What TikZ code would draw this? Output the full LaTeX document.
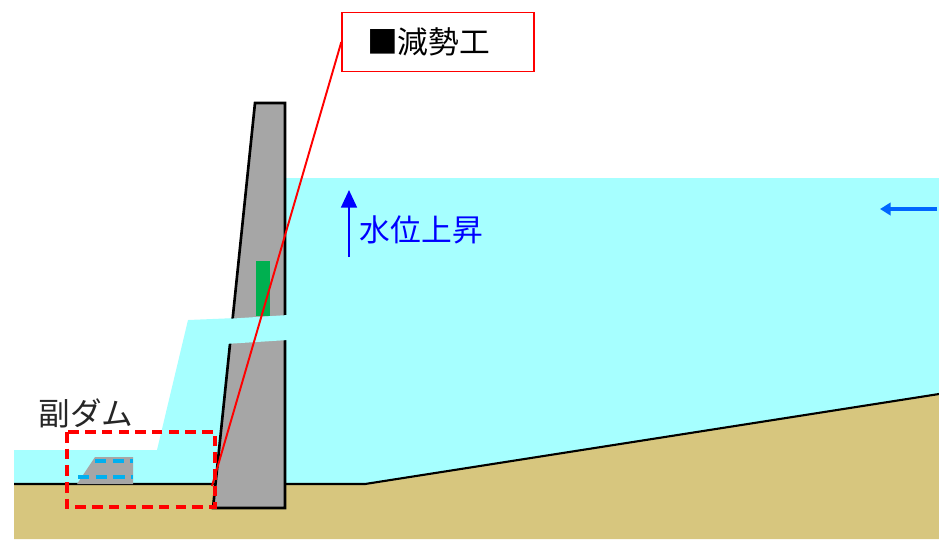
\documentclass[tikz,border=0pt]{standalone}
\usepackage{fontspec}
\newfontfamily\jp{Noto Sans CJK JP}
\usetikzlibrary{positioning,arrows.meta}
\definecolor{wt}{RGB}{166,255,255}
\definecolor{gd}{RGB}{215,198,126}
\definecolor{cn}{RGB}{166,166,166}
\definecolor{gr}{RGB}{0,176,80}
\definecolor{bl}{RGB}{0,176,240}
\definecolor{ar}{RGB}{0,102,255}
\def\lw{1.5pt}
\tikzset{
  jptext/.style={font=\jp\fontsize{17.5}{17.5}\selectfont,inner sep=0pt},
  seam/.style={draw=bl,line width=1.8pt,dash pattern=on 6.5pt off 3.5pt}
}

\begin{document}
\begin{tikzpicture}[x=0.02cm,y=-0.02cm]
\useasboundingbox (0,0) rectangle (939,539);
% ground and water
\fill[gd] (14,484) -- (365,484) -- (939,394) -- (939,539) -- (14,539) -- cycle;
\fill[wt] (285,178) -- (939,178) -- (939,394) -- (365,484) -- (285,484) -- cycle;
\fill[wt] (14,450) -- (157,450) -- (188,320) -- (285,316) -- (285,484) -- (14,484) -- cycle;
\draw[line width=1.2pt] (14,484) -- (365,484) -- (939,394);

% main dam with the outlet
\draw[fill=cn,line width=\lw] (255,103) -- (285,103) -- (285,508) -- (213,508) -- cycle;
\fill[wt] (225,319) -- (288,315) -- (288,340) -- (225,344) -- cycle;
\fill[gr] (256,261) rectangle (270,316);

% sub dam
\fill[cn] (77,484) -- (95,457) -- (133,457) -- (133,484) -- cycle;
\draw[seam] (95,461) -- (133,461);
\draw[seam] (78,477) -- (133,477);

% callout
\node[draw=red,fill=white,line width=0.8pt,jptext,text width=2.84cm,align=left,
      inner xsep=0.5cm,minimum height=1.18cm] (gs) at (438,42) {■減勢工};
\coordinate (gsend) at (212,486);
\draw[red,line width=1.1pt] (gs.west) -- (gsend);
\draw[red,line width=1.8pt,dash pattern=on 6pt off 3.5pt] (67,432) rectangle (215,507);
\node[jptext,font=\jp\fontsize{18}{18}\selectfont,text=black!85] (sub) at (86,413) {副ダム};

% rising water
\coordinate (up0) at (349,257);
\coordinate (up1) at (349,190);
\draw[blue,line width=1.2pt,-{Triangle[length=10pt,width=9pt]}] (up0) -- (up1);
\node[jptext,text=blue,right=6pt of up0,anchor=south west,yshift=7pt] (rise) {水位上昇};
\coordinate (in0) at (937,209);
\coordinate (in1) at (880,209);
\draw[ar,line width=2.3pt,-{Triangle[length=6pt,width=7pt]}] (in0) -- (in1);
\end{tikzpicture}
\end{document}
